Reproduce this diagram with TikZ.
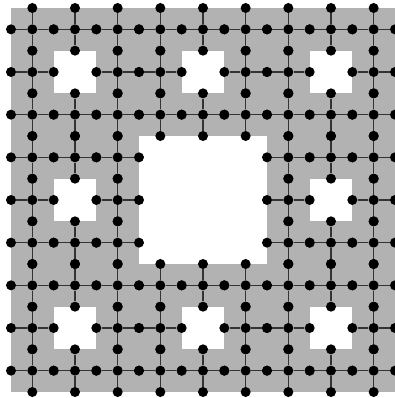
\documentclass[tikz,border=0pt]{standalone}
\usepackage{tikz}
\definecolor{carpet}{gray}{0.7}
\definecolor{wire}{gray}{0.2}

\begin{document}
\begin{tikzpicture}[
		x=21.333pt, y=21.333pt,
		dot/.style={circle, fill=black, inner sep=0pt, minimum size=10pt},
		edge/.style={draw=wire, line width=1.4pt}
	]
		\useasboundingbox (-0.5156,-0.28125) rectangle (18,18.375);
		% carpet and its holes
		\fill[carpet] (0,0) rectangle (18,18);
		\foreach \hx in {1,4,7}{
			\foreach \hy in {1,4,7}{
				\fill[white] (2*\hx,2*\hy) rectangle ++(2,2);
			}
		}
		\fill[white] (6,6) rectangle (12,12);

		% one plus per remaining cell
		\foreach \a in {0,...,8}{
			\foreach \b in {0,...,8}{
				\pgfmathtruncatemacro{\hole}{(mod(\a,3)==1 && mod(\b,3)==1) || (\a>2 && \a<6 && \b>2 && \b<6)}
				\ifnum\hole=0
					\pgfmathtruncatemacro{\cx}{2*\a+1}
					\pgfmathtruncatemacro{\cy}{2*\b+1}
					\pgfmathtruncatemacro{\lx}{2*\a}
					\pgfmathtruncatemacro{\rx}{2*\a+2}
					\pgfmathtruncatemacro{\by}{2*\b}
					\pgfmathtruncatemacro{\ty}{2*\b+2}
					\node[dot] (v-\cx-\cy) at (\cx,\cy) {};
					\node[dot] (v-\lx-\cy) at (\lx,\cy) {};
					\node[dot] (v-\rx-\cy) at (\rx,\cy) {};
					\node[dot] (v-\cx-\by) at (\cx,\by) {};
					\node[dot] (v-\cx-\ty) at (\cx,\ty) {};
					\draw[edge] (v-\cx-\cy) -- (v-\lx-\cy);
					\draw[edge] (v-\cx-\cy) -- (v-\rx-\cy);
					\draw[edge] (v-\cx-\cy) -- (v-\cx-\by);
					\draw[edge] (v-\cx-\cy) -- (v-\cx-\ty);
				\fi
			}
		}
	\end{tikzpicture}
\end{document}
